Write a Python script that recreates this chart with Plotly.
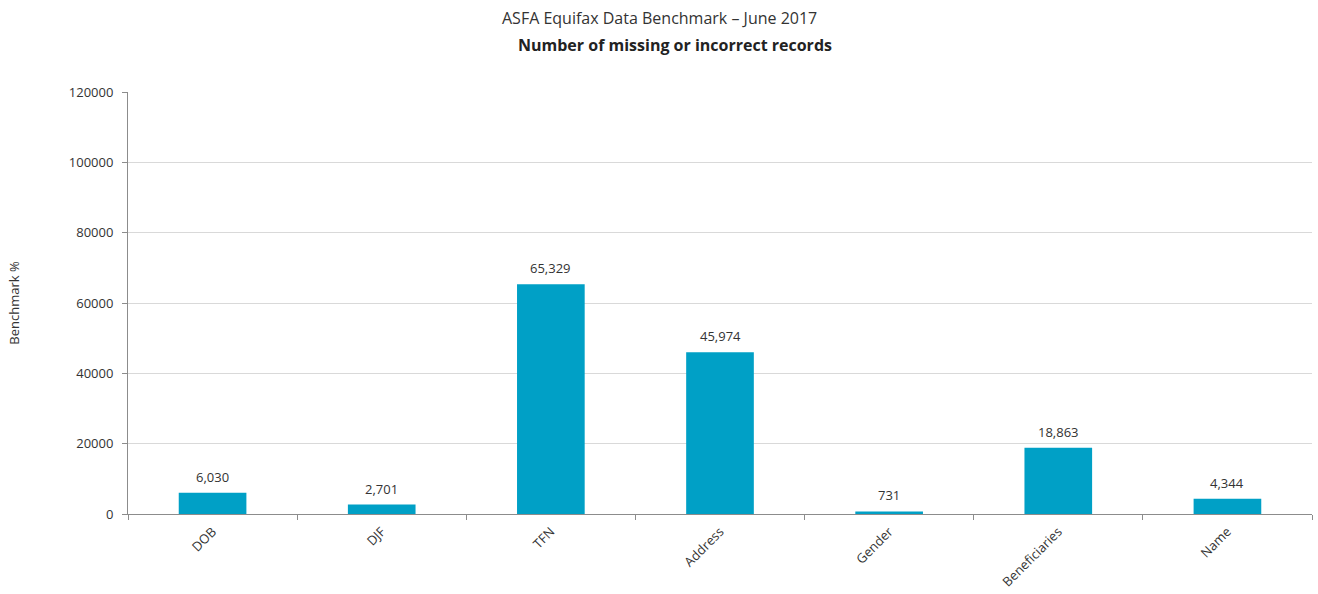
import plotly.graph_objects as go

categories = ["DOB", "DJF", "TFN", "Address", "Gender", "Beneficiaries", "Name"]
values = [6030, 2701, 65329, 45974, 731, 18863, 4344]
y_ticks = [0, 20000, 40000, 60000, 80000, 100000, 120000]

L, R, T, B = 128, 6, 92, 80
W, H = 1318, 594
plot_w = W - L - R
plot_h = H - T - B

fig = go.Figure()
fig.add_trace(go.Bar(
    x=categories, y=values,
    marker=dict(color="#00A0C6", line=dict(width=0)),
    width=0.4,
    hoverinfo="x+y",
))
# value labels above bars, a little higher than Plotly's default outside text
for c, v in zip(categories, values):
    fig.add_annotation(x=c, y=v, text=f"{v:,}", showarrow=False,
                       yanchor="bottom", yshift=5,
                       font=dict(family="Open Sans", size=13, color="#333333"))

fig.update_layout(
    width=W, height=H,
    margin=dict(l=L, r=R, t=T, b=B, autoexpand=False),
    paper_bgcolor="white", plot_bgcolor="white",
    showlegend=False,
    font=dict(family="Open Sans", color="#333333"),
)
fig.add_annotation(text="ASFA Equifax Data Benchmark – June 2017",
                   x=(659 - L) / plot_w, xref="paper", xanchor="center",
                   y=1 + (T - 18) / plot_h, yref="paper", yanchor="middle",
                   showarrow=False, font=dict(size=16, color="#333333"))
fig.add_annotation(text="<b>Number of missing or incorrect records</b>",
                   x=(675 - L) / plot_w, xref="paper", xanchor="center",
                   y=1 + (T - 45) / plot_h, yref="paper", yanchor="middle",
                   showarrow=False, font=dict(size=16, color="#222222"))

fig.update_yaxes(
    range=[0, 120000], tickvals=y_ticks, ticktext=[str(t) for t in y_ticks],
    showgrid=True, gridcolor="#D9D9D9", gridwidth=1,
    showline=True, linecolor="#8C8C8C", linewidth=1,
    ticks="outside", ticklen=5, tickcolor="#8C8C8C",
    tickfont=dict(size=13, color="#333333"),
    ticklabelstandoff=6,
    zeroline=False, automargin=False,
    title=dict(text="Benchmark %", font=dict(size=13, color="#333333"), standoff=46),
)
fig.update_xaxes(
    showline=True, linecolor="#8C8C8C", linewidth=1,
    ticks="outside", ticklen=5, tickcolor="#8C8C8C", tickson="boundaries",
    tickangle=-45, tickfont=dict(size=13, color="#333333"),
    ticklabelstandoff=4, automargin=False,
    showgrid=False,
)

fig.write_html("out.html")
